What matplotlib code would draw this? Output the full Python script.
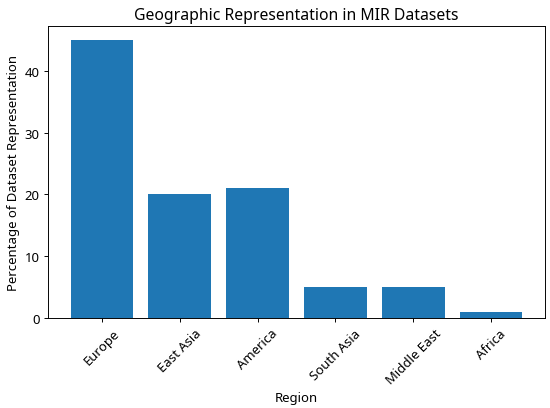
import matplotlib
matplotlib.use('Agg')
import matplotlib.pyplot as plt

plt.rcParams['font.family'] = ['Noto Sans', 'DejaVu Sans']
plt.rcParams['font.size'] = 11

# Regions and share of dataset representation (%)
regions = ['Europe', 'East Asia', 'America', 'South Asia', 'Middle East', 'Africa']
percentages = [45, 20, 21, 5, 5, 1]

fig = plt.figure(figsize=(550 / 86, 409 / 86), dpi=86)
ax = fig.add_axes([48 / 550, 1 - 319 / 409, 497 / 550, 292 / 409])

ax.bar(regions, percentages, color='#1f77b4')
ax.set_title('Geographic Representation in MIR Datasets', fontsize=13.2)
ax.set_xlabel('Region')
ax.set_ylabel('Percentage of Dataset Representation')
plt.setp(ax.get_xticklabels(), rotation=45)

fig.savefig('out.png', dpi=86)
